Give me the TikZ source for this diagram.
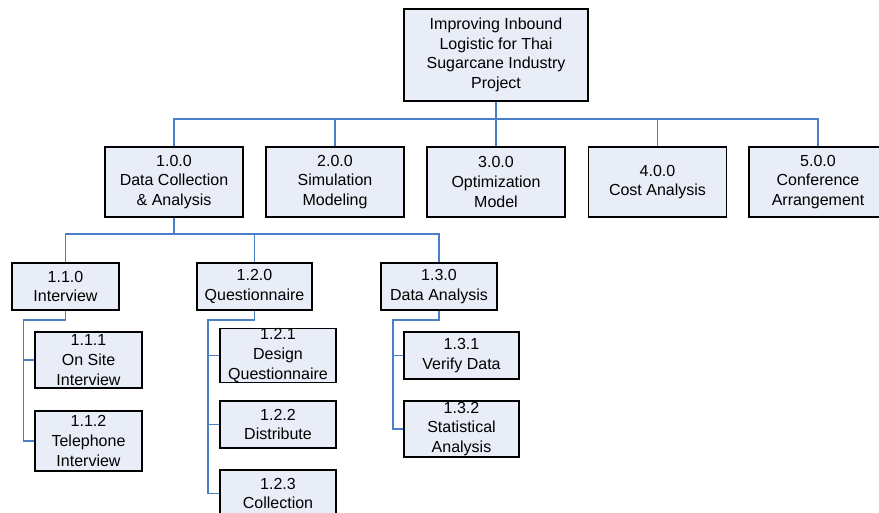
\documentclass[tikz,border=0pt]{standalone}
\usepackage{fontspec}
\setmainfont{Liberation Sans}
\definecolor{boxfill}{HTML}{E8EDF7}
\definecolor{linkblue}{HTML}{4A7EC6}
\begin{document}
\begin{tikzpicture}[x=1pt,y=-1pt,
  wbs/.style={draw=black,line width=1.5pt,fill=boxfill,inner sep=0pt,
    font=\fontsize{16}{19.7}\selectfont,align=center,anchor=center},
  link/.style={draw=linkblue,line width=1.8pt}]
\useasboundingbox (0,0) rectangle (879,512);
\begin{scope}
\clip (0,0) rectangle (879,512);
% connectors level 0-1
\coordinate (bus1) at (496,119);
\coordinate (bus2) at (174,234);
\coordinate (k1) at (23.5,320);
\coordinate (k2) at (208,320);
\coordinate (k3) at (393,320);
% root
\node[wbs,minimum width=184pt,minimum height=92pt] (root) at (496,55) {Improving Inbound\\Logistic for Thai\\Sugarcane Industry\\Project};
% level 1
\node[wbs,minimum width=138pt,minimum height=70pt] (a1) at (174,182) {1.0.0\\Data Collection\\\& Analysis};
\node[wbs,minimum width=138pt,minimum height=70pt] (a2) at (335,182) {2.0.0\\Simulation\\Modeling};
\node[wbs,minimum width=138pt,minimum height=70pt] (a3) at (496,182) {3.0.0\\Optimization\\Model};
\node[wbs,minimum width=138pt,minimum height=70pt] (a4) at (657.5,182) {4.0.0\\Cost Analysis};
\node[wbs,minimum width=138pt,minimum height=70pt] (a5) at (818,182) {5.0.0\\Conference\\Arrangement};
% level 2
\node[wbs,minimum width=107pt,minimum height=47pt] (b1) at (65.5,286.5) {1.1.0\\Interview};
\node[wbs,minimum width=115pt,minimum height=47pt] (b2) at (254.5,286.5) {1.2.0\\Questionnaire};
\node[wbs,minimum width=116pt,minimum height=47pt] (b3) at (439,286.5) {1.3.0\\Data Analysis};
% level 3
\node[wbs,minimum width=107pt,minimum height=56pt] (c11) at (88.5,360) {1.1.1\\On Site\\Interview};
\node[wbs,minimum width=107pt,minimum height=60pt] (c12) at (88.5,441) {1.1.2\\Telephone\\Interview};
\node[wbs,minimum width=116pt,minimum height=47pt] (c21) at (278,355.5) {1.2.1\\Design\\Questionnaire};
\node[wbs,minimum width=116pt,minimum height=47pt] (c22) at (278,424.5) {1.2.2\\Distribute};
\node[wbs,minimum width=116pt,minimum height=47pt] (c23) at (278,493.5) {1.2.3\\Collection};
\node[wbs,minimum width=115pt,minimum height=47pt] (c31) at (461.5,355.5) {1.3.1\\Verify Data};
\node[wbs,minimum width=115pt,minimum height=56pt] (c32) at (461.5,429) {1.3.2\\Statistical\\Analysis};
% connectors level 0-1
\draw[link] (root.south) -- (a3.north);
\draw[link] (a1.north) |- (bus1);
\draw[link] (a5.north) |- (bus1);
\draw[link] (a2.north) -- (a2.north |- bus1);
\draw[link] (a4.north) -- (a4.north |- bus1);
% connectors level 1-2
\draw[link] (a1.south) -- (bus2);
\draw[link] (b1.north) |- (bus2);
\draw[link] (b3.north) |- (bus2);
\draw[link] (b2.north) -- (b2.north |- bus2);
% connectors level 2-3
\draw[link] (b1.south) |- (k1) |- (c12.west);
\draw[link] (k1 |- c11.west) -- (c11.west);
\draw[link] (b2.south) |- (k2) |- (c23.west);
\draw[link] (k2 |- c21.west) -- (c21.west);
\draw[link] (k2 |- c22.west) -- (c22.west);
\draw[link] (b3.south) |- (k3) |- (c32.west);
\draw[link] (k3 |- c31.west) -- (c31.west);
\end{scope}
\end{tikzpicture}
\end{document}
